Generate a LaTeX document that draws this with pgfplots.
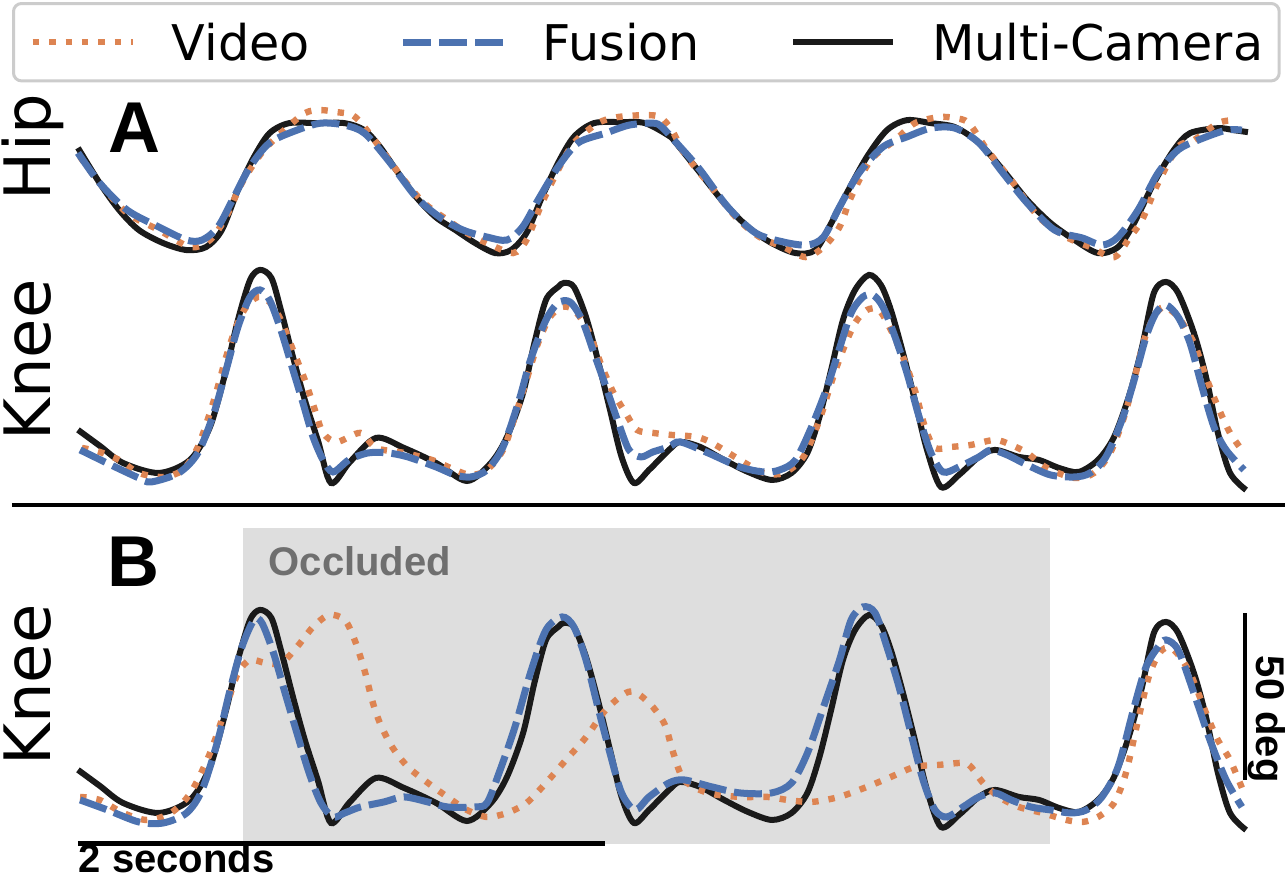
\documentclass[border=0pt]{standalone}
\usepackage{pgfplots}
\usepackage{pgfplotstable}
\pgfplotsset{compat=1.18}
\usepackage{fontspec}
\setmainfont{DejaVu Sans}
\newfontfamily\helv{Liberation Sans}

\definecolor{vidc}{HTML}{DD8452}
\definecolor{fusc}{HTML}{4C72B0}
\definecolor{mcc}{HTML}{1A1A1A}
\definecolor{occ}{HTML}{DEDEDE}
\definecolor{occtext}{HTML}{6F6F6F}

% knee angle from the multi-camera system, same trial in A and B
\pgfplotstableread{
t deg
0.000 18.0
0.083 13.2
0.171 8.1
0.307 5.1
0.425 9.0
0.501 18.9
0.562 35.9
0.607 50.9
0.653 62.9
0.691 65.9
0.734 63.5
0.770 53.9
0.816 39.8
0.861 26.9
0.911 14.7
0.960 2.1
1.032 8.4
1.131 15.6
1.237 12.6
1.359 8.1
1.476 2.7
1.567 8.1
1.628 15.9
1.689 29.0
1.732 44.0
1.776 56.9
1.822 60.8
1.844 62.0
1.882 60.8
1.928 51.8
1.973 38.9
2.019 24.0
2.063 9.9
2.110 2.1
2.167 6.0
2.243 12.0
2.285 14.4
2.361 12.9
2.452 9.0
2.543 5.4
2.634 3.0
2.708 5.1
2.768 11.1
2.814 21.9
2.858 35.9
2.903 50.9
2.949 59.9
3.002 64.4
3.047 61.4
3.085 53.9
3.131 41.0
3.176 26.9
3.222 12.0
3.275 0.9
3.343 4.5
3.419 9.9
3.480 12.0
3.571 9.9
3.647 9.0
3.723 6.6
3.797 5.4
3.871 9.0
3.932 15.9
3.992 29.0
4.038 42.8
4.083 59.0
4.129 62.3
4.175 59.0
4.235 47.0
4.281 33.8
4.326 17.1
4.372 5.1
4.433 0.0
}\kneemc

\pgfplotsset{
  panel/.style={x=65.875pt, y=0.835pt, xmin=-0.296, xmax=4.581,
    hide axis, clip=false, enlargelimits=false, anchor=south west},
  vid/.style={color=vidc, line width=1.6pt, dash pattern=on 1.6pt off 2.5pt},
  fus/.style={color=fusc, line width=1.75pt, dash pattern=on 7pt off 2pt},
  mc/.style={color=mcc, line width=1.5pt},
}
\tikzset{
  lab/.style={font=\fontsize{16}{19}\selectfont, rotate=90, anchor=base},
  panelletter/.style={font=\helv\bfseries\fontsize{18}{21}\selectfont, anchor=base west, inner sep=0pt},
  small/.style={font=\helv\bfseries\fontsize{10}{12}\selectfont, inner sep=0pt},
}

\begin{document}
\begin{tikzpicture}
\path[use as bounding box] (0,0) rectangle (321.25pt,-219pt);

% ---------- A: hip ----------
\begin{axis}[panel, at={(0pt,-67.61pt)}, ymin=-16, ymax=36,
  legend columns=3, legend cell align=left,
  legend image code/.code={\draw[#1] (0pt,0pt) -- (25pt,0pt);},
  legend style={at={(0.00934,1.5456)}, anchor=north west,
    draw=black!20, line width=0.75pt, rounded corners=2pt, fill=white,
    inner xsep=4pt, inner ysep=5pt,
    font=\fontsize{12.3}{14}\selectfont,
    nodes={inner sep=0pt, text depth=0pt},
    /tikz/every odd column/.append style={column sep=9pt},
    /tikz/every even column/.append style={column sep=22.5pt}},
]
  \addlegendimage{vid}\addlegendentry{Video}
  \addlegendimage{fus}\addlegendentry{Fusion}
  \addlegendimage{mc}\addlegendentry{Multi-Camera}

  \addplot[mc, smooth, tension=0.5, forget plot] coordinates {
    (0.000,20.7) (0.082,10.2) (0.156,2.1) (0.231,-3.9) (0.323,-7.8) (0.412,-9.9)
    (0.486,-9.0) (0.546,-3.9) (0.607,8.1) (0.668,18.0) (0.727,25.1) (0.801,28.1)
    (0.907,28.1) (1.012,28.1) (1.087,26.0) (1.146,21.0) (1.207,14.1) (1.283,6.0)
    (1.357,0.0) (1.432,-3.9) (1.507,-7.8) (1.583,-10.8) (1.643,-9.9) (1.702,-4.8)
    (1.761,6.0) (1.822,16.2) (1.882,24.0) (1.958,28.1) (2.063,28.4) (2.152,28.1)
    (2.243,24.3) (2.269,22.2) (2.361,13.2) (2.452,4.2) (2.543,-3.0) (2.632,-7.8)
    (2.723,-10.8) (2.798,-9.9) (2.859,-1.8) (2.918,7.2) (2.994,18.0) (3.070,26.0)
    (3.146,29.0) (3.237,28.1) (3.328,26.9) (3.419,22.2) (3.510,14.1) (3.602,5.1)
    (3.691,-1.8) (3.782,-6.9) (3.871,-10.8) (3.947,-9.0) (4.008,-1.8) (4.083,10.2)
    (4.159,20.1) (4.220,25.1) (4.326,26.6) (4.387,26.0) (4.440,25.4)};
  \addplot[vid, smooth, tension=0.5, forget plot] coordinates {
    (0.008,18.0) (0.082,10.2) (0.186,1.2) (0.307,-3.9) (0.427,-9.0) (0.501,-6.9)
    (0.562,0.0) (0.622,10.2) (0.697,19.2) (0.770,25.1) (0.861,31.1) (0.922,32.0)
    (0.983,31.4) (1.042,30.5) (1.087,26.9) (1.161,19.2) (1.237,11.1) (1.313,4.2)
    (1.402,-0.9) (1.476,-4.8) (1.552,-7.8) (1.651,-10.8) (1.702,-6.9) (1.761,4.2)
    (1.822,14.1) (1.882,22.2) (1.973,28.1) (2.047,29.9) (2.152,30.5) (2.209,29.9)
    (2.254,26.0) (2.300,19.2) (2.391,10.2) (2.496,0.0) (2.587,-6.0) (2.678,-9.0)
    (2.761,-12.0) (2.829,-9.0) (2.890,-3.0) (2.934,6.0) (3.009,17.1) (3.101,23.0)
    (3.176,28.1) (3.268,29.9) (3.328,29.6) (3.381,28.1) (3.450,20.1) (3.541,11.1)
    (3.646,0.0) (3.751,-6.0) (3.842,-9.0) (3.933,-12.0) (3.992,-6.0) (4.038,-0.9)
    (4.099,10.2) (4.175,21.0) (4.235,23.0) (4.326,28.1) (4.387,29.0)};
  \addplot[fus, smooth, tension=0.5, forget plot] coordinates {
    (0.000,19.2) (0.082,10.2) (0.186,2.1) (0.307,-3.0) (0.412,-6.9) (0.471,-6.9)
    (0.531,-3.0) (0.592,6.0) (0.653,15.0) (0.727,22.2) (0.831,26.0) (0.922,28.1)
    (1.012,27.5) (1.087,25.1) (1.176,17.1) (1.283,6.0) (1.372,0.0) (1.461,-3.9)
    (1.552,-6.0) (1.628,-6.9) (1.687,-3.0) (1.746,5.1) (1.822,15.0) (1.898,22.2)
    (2.002,25.1) (2.091,27.5) (2.182,28.1) (2.216,26.9) (2.285,21.0) (2.361,14.1)
    (2.466,3.0) (2.572,-4.8) (2.678,-7.5) (2.768,-8.4) (2.829,-6.0) (2.890,3.0)
    (2.964,13.2) (3.055,21.0) (3.146,24.0) (3.237,26.6) (3.328,26.6) (3.419,22.2)
    (3.510,13.2) (3.602,4.2) (3.706,-3.9) (3.812,-6.3) (3.886,-8.4) (3.947,-6.0)
    (4.023,2.1) (4.099,13.2) (4.175,20.1) (4.250,23.0) (4.357,26.0) (4.417,26.0)};

  \node[lab] at (axis cs:-0.106,21) {Hip};
  \node[panelletter] at (axis cs:0.114,19.2) {A};
\end{axis}

% ---------- A: knee ----------
\begin{axis}[panel, at={(0pt,-126.675pt)}, ymin=-5, ymax=70]
  \addplot[mc, smooth, tension=0.5] table {\kneemc};
  \addplot[vid, smooth, tension=0.5] coordinates {
    (0.015,12.6) (0.082,11.4) (0.156,9.0) (0.231,5.1) (0.323,3.9) (0.397,6.0)
    (0.455,12.9) (0.516,26.9) (0.562,39.8) (0.600,48.8) (0.638,54.8) (0.683,57.8)
    (0.727,56.3) (0.770,50.9) (0.816,41.9) (0.861,32.9) (0.899,24.0) (0.930,17.1)
    (0.983,14.4) (1.072,17.1) (1.131,12.6) (1.237,11.1) (1.343,9.0) (1.431,6.0)
    (1.491,4.5) (1.552,6.0) (1.613,12.0) (1.658,21.9) (1.702,32.9) (1.746,44.0)
    (1.791,51.8) (1.837,54.8) (1.882,53.9) (1.935,47.9) (1.989,36.8) (2.033,29.0)
    (2.078,23.1) (2.121,18.0) (2.182,17.1) (2.250,16.5) (2.345,15.9) (2.406,14.1)
    (2.512,9.0) (2.603,5.1) (2.678,5.1) (2.753,9.9) (2.814,21.0) (2.858,32.0)
    (2.903,41.9) (2.949,50.0) (2.994,53.9) (3.040,53.9) (3.085,47.9) (3.131,39.8)
    (3.176,29.9) (3.214,18.9) (3.252,12.6) (3.313,12.9) (3.389,13.5) (3.480,15.0)
    (3.541,13.5) (3.602,11.1) (3.677,6.6) (3.782,3.6) (3.856,5.1) (3.917,11.1)
    (3.970,21.9) (4.008,32.9) (4.046,44.9) (4.083,51.8) (4.121,54.8) (4.175,51.8)
    (4.235,44.0) (4.281,33.8) (4.326,24.9) (4.372,17.1) (4.425,11.1)};
  \addplot[fus, smooth, tension=0.5] coordinates {
    (0.008,12.0) (0.125,7.5) (0.231,3.6) (0.277,2.4) (0.382,5.1) (0.455,11.1)
    (0.516,23.1) (0.562,35.9) (0.607,48.8) (0.653,57.8) (0.691,59.9) (0.727,56.9)
    (0.770,47.9) (0.816,35.9) (0.854,26.0) (0.892,15.9) (0.930,9.0) (0.968,5.4)
    (1.028,9.0) (1.101,11.1) (1.176,11.1) (1.252,9.9) (1.359,6.9) (1.431,4.5)
    (1.491,3.9) (1.552,6.0) (1.613,12.9) (1.674,26.9) (1.717,38.9) (1.776,50.9)
    (1.822,56.0) (1.867,56.3) (1.913,50.9) (1.958,41.0) (2.004,30.8) (2.047,21.0)
    (2.091,12.0) (2.137,9.9) (2.182,11.4) (2.243,12.9) (2.285,14.4) (2.391,11.1)
    (2.512,6.9) (2.603,5.4) (2.663,6.0) (2.723,9.0) (2.784,18.9) (2.843,30.8)
    (2.888,41.9) (2.934,53.0) (2.979,57.8) (3.017,58.4) (3.055,54.8) (3.101,45.8)
    (3.146,35.0) (3.192,21.9) (3.237,11.1) (3.283,5.4) (3.343,6.9) (3.419,9.9)
    (3.465,12.0) (3.526,10.5) (3.602,7.5) (3.691,4.5) (3.782,3.9) (3.841,5.1)
    (3.901,9.9) (3.962,21.0) (4.008,32.9) (4.053,45.8) (4.091,53.0) (4.129,55.4)
    (4.175,51.8) (4.220,44.0) (4.266,30.8) (4.311,18.9) (4.357,12.0) (4.425,6.0)};

  \addplot[black, line width=1.1pt] coordinates {(-0.2505,-4.5) (4.581,-4.5)};
  \node[lab] at (axis cs:-0.106,38.9) {Knee};
\end{axis}

% ---------- B: knee, occluded section ----------
\begin{axis}[panel, at={(0pt,-214.18pt)}, ymin=-8, ymax=96]
  \addplot[fill=occ, draw=none] coordinates {
    (0.626,-4.2) (3.689,-4.2) (3.689,90.4) (0.626,90.4)} -- cycle;
  \addplot[mc, smooth, tension=0.5] table {\kneemc};
  \addplot[vid, smooth, tension=0.5] coordinates {
    (0.008,9.9) (0.082,9.0) (0.171,5.1) (0.262,3.0) (0.352,5.1) (0.427,11.1)
    (0.501,23.0) (0.562,36.8) (0.607,47.0) (0.653,50.9) (0.712,50.0) (0.772,50.0)
    (0.831,54.8) (0.892,60.8) (0.953,64.4) (1.012,62.9) (1.050,56.9) (1.087,47.9)
    (1.116,38.9) (1.146,32.0) (1.192,24.9) (1.252,18.9) (1.328,14.1) (1.402,9.9)
    (1.476,6.0) (1.552,3.9) (1.628,5.1) (1.702,8.1) (1.776,14.1) (1.852,21.0)
    (1.928,27.8) (2.002,35.9) (2.078,41.0) (2.121,41.0) (2.182,36.8) (2.228,31.4)
    (2.258,23.4) (2.300,15.0) (2.391,11.1) (2.512,9.9) (2.617,9.9) (2.693,9.0)
    (2.784,8.4) (2.888,9.9) (2.994,12.9) (3.085,15.9) (3.176,18.9) (3.268,19.5)
    (3.359,20.1) (3.389,18.9) (3.435,14.1) (3.495,9.9) (3.571,6.9) (3.661,5.1)
    (3.751,3.0) (3.812,2.4) (3.871,3.9) (3.932,8.1) (3.977,17.1) (4.023,32.9)
    (4.068,47.0) (4.114,53.9) (4.159,53.9) (4.220,47.0) (4.281,35.0) (4.326,26.9)
    (4.372,21.0) (4.425,11.1)};
  \addplot[fus, smooth, tension=0.5] coordinates {
    (0.008,9.0) (0.112,6.0) (0.231,2.4) (0.323,2.1) (0.412,5.1) (0.471,12.0)
    (0.531,26.9) (0.577,41.9) (0.622,54.8) (0.668,62.9) (0.698,62.0) (0.742,53.0)
    (0.786,41.0) (0.831,29.0) (0.877,17.1) (0.922,8.1) (0.968,3.9) (1.012,5.1)
    (1.072,6.9) (1.161,8.4) (1.237,9.9) (1.328,8.4) (1.402,6.9) (1.507,6.9)
    (1.552,8.1) (1.598,17.1) (1.658,30.8) (1.717,47.0) (1.776,59.9) (1.837,63.8)
    (1.882,60.8) (1.928,50.9) (1.973,36.8) (2.019,23.0) (2.063,11.1) (2.114,6.0)
    (2.167,9.9) (2.243,14.1) (2.300,15.0) (2.406,12.9) (2.512,11.1) (2.632,11.1)
    (2.708,14.1) (2.768,23.0) (2.829,36.8) (2.890,50.9) (2.934,62.9) (2.979,66.8)
    (3.025,65.0) (3.070,54.8) (3.116,42.8) (3.161,29.0) (3.207,15.0) (3.252,6.0)
    (3.298,3.9) (3.359,6.9) (3.419,9.9) (3.480,11.1) (3.541,9.0) (3.616,6.9)
    (3.691,6.0) (3.767,5.1) (3.827,6.0) (3.886,9.9) (3.947,18.9) (4.008,36.8)
    (4.053,48.8) (4.099,54.8) (4.129,56.9) (4.175,53.9) (4.235,41.0) (4.296,26.9)
    (4.357,15.0) (4.417,6.9)};

  % scale bars
  \addplot[black, line width=1.1pt] coordinates {(0,-4.0) (2,-4.0)};
  \addplot[black, line width=1.1pt] coordinates {(4.429,15) (4.429,65)};

  \node[lab] at (axis cs:-0.106,43.4) {Knee};
  \node[panelletter] at (axis cs:0.110,72.8) {B};
  \node[small, text=occtext, anchor=base west] at (axis cs:0.721,76.3) {Occluded};
  \node[small, anchor=base west] at (axis cs:0,-12.8) {2 seconds};
  \node[small, rotate=-90, anchor=base west] at (axis cs:4.471,52.4) {50 deg};
\end{axis}
\end{tikzpicture}
\end{document}
